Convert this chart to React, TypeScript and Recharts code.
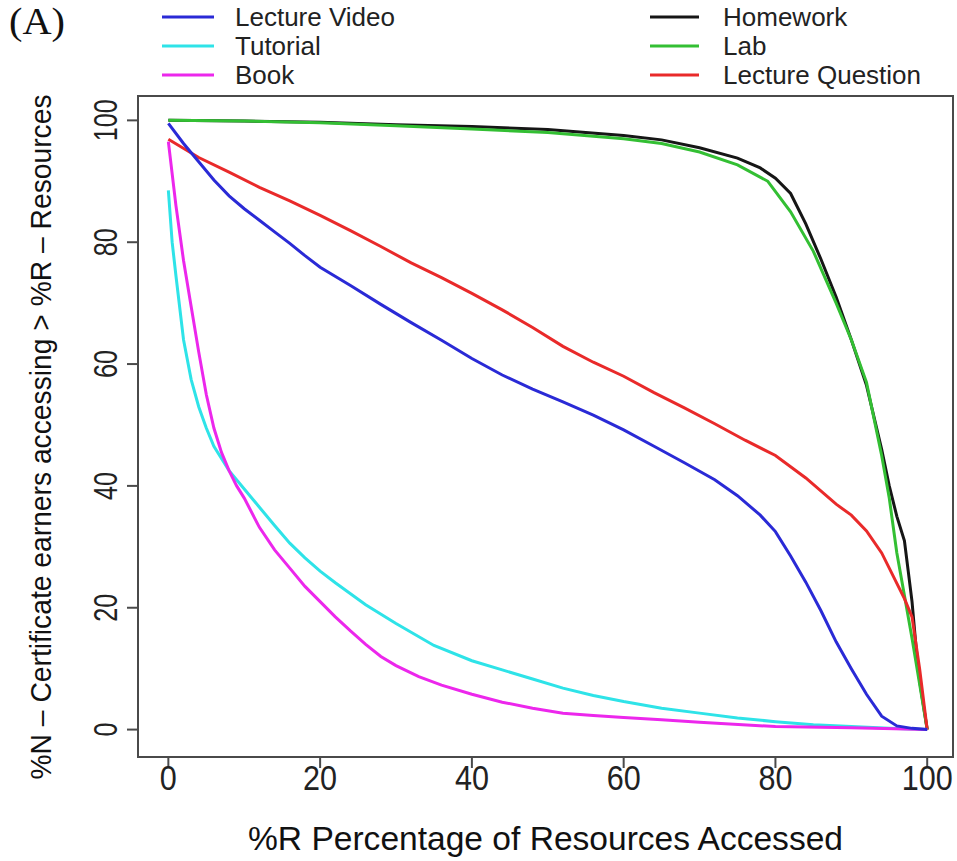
import { LineChart, Line, XAxis, YAxis, ReferenceArea, Legend, Label } from "recharts";

const BLUE = "#2a2ad6";
const CYAN = "#2ee3e8";
const MAGENTA = "#ec27ec";
const BLACK = "#161616";
const GREEN = "#33bf33";
const RED = "#e92a2a";
const AXIS = "#4a4a4a";
const SANS = "Liberation Sans, Arial, sans-serif";

// %R accessed -> %N of certificate earners
const lectureVideo = [
  { x: 0, y: 99.5 }, { x: 2, y: 96.2 }, { x: 4, y: 93.2 }, { x: 6, y: 90.2 }, { x: 8, y: 87.6 },
  { x: 10, y: 85.5 }, { x: 12, y: 83.6 }, { x: 14, y: 81.7 }, { x: 16, y: 79.8 }, { x: 18, y: 77.8 },
  { x: 20, y: 75.9 }, { x: 24, y: 72.9 }, { x: 28, y: 69.8 }, { x: 32, y: 66.8 }, { x: 36, y: 63.9 },
  { x: 40, y: 60.9 }, { x: 44, y: 58.2 }, { x: 48, y: 55.9 }, { x: 52, y: 53.8 }, { x: 56, y: 51.6 },
  { x: 60, y: 49.2 }, { x: 64, y: 46.5 }, { x: 68, y: 43.8 }, { x: 72, y: 41 }, { x: 75, y: 38.4 },
  { x: 78, y: 35.2 }, { x: 80, y: 32.5 }, { x: 82, y: 28.5 }, { x: 84, y: 24.2 }, { x: 86, y: 19.5 },
  { x: 88, y: 14.4 }, { x: 90, y: 10 }, { x: 92, y: 5.8 }, { x: 94, y: 2.2 }, { x: 96, y: 0.6 },
  { x: 98, y: 0.2 }, { x: 100, y: 0 },
];

const tutorial = [
  { x: 0, y: 88.5 }, { x: 0.5, y: 80 }, { x: 1, y: 74.5 }, { x: 2, y: 64 }, { x: 3, y: 57.5 },
  { x: 4, y: 53 }, { x: 5, y: 49.5 }, { x: 6, y: 46.5 }, { x: 8, y: 42.5 }, { x: 10, y: 39.5 },
  { x: 12, y: 36.5 }, { x: 14, y: 33.5 }, { x: 16, y: 30.6 }, { x: 18, y: 28.2 }, { x: 20, y: 26 },
  { x: 22, y: 24.1 }, { x: 26, y: 20.5 }, { x: 30, y: 17.4 }, { x: 35, y: 13.8 }, { x: 40, y: 11.3 },
  { x: 44, y: 9.8 }, { x: 48, y: 8.3 }, { x: 52, y: 6.8 }, { x: 56, y: 5.6 }, { x: 60, y: 4.6 },
  { x: 65, y: 3.5 }, { x: 70, y: 2.7 }, { x: 75, y: 1.9 }, { x: 80, y: 1.3 }, { x: 85, y: 0.8 },
  { x: 90, y: 0.5 }, { x: 95, y: 0.2 }, { x: 100, y: 0 },
];

const book = [
  { x: 0, y: 96.5 }, { x: 1, y: 86 }, { x: 2, y: 77 }, { x: 3, y: 69.5 }, { x: 4, y: 62 },
  { x: 5, y: 55 }, { x: 6, y: 49.5 }, { x: 7, y: 45.5 }, { x: 8, y: 42.5 }, { x: 9, y: 40 },
  { x: 10, y: 38 }, { x: 12, y: 33.2 }, { x: 14, y: 29.5 }, { x: 16, y: 26.5 }, { x: 18, y: 23.5 },
  { x: 20, y: 21 }, { x: 22, y: 18.5 }, { x: 24, y: 16.2 }, { x: 26, y: 14 }, { x: 28, y: 12 },
  { x: 30, y: 10.5 }, { x: 33, y: 8.7 }, { x: 36, y: 7.3 }, { x: 40, y: 5.8 }, { x: 44, y: 4.5 },
  { x: 48, y: 3.5 }, { x: 52, y: 2.7 }, { x: 56, y: 2.3 }, { x: 60, y: 2 }, { x: 65, y: 1.6 },
  { x: 70, y: 1.2 }, { x: 80, y: 0.5 }, { x: 90, y: 0.3 }, { x: 100, y: 0 },
];

const homework = [
  { x: 0, y: 100 }, { x: 10, y: 99.9 }, { x: 20, y: 99.7 }, { x: 30, y: 99.3 }, { x: 40, y: 99 },
  { x: 50, y: 98.5 }, { x: 60, y: 97.5 }, { x: 65, y: 96.8 }, { x: 70, y: 95.5 }, { x: 75, y: 93.8 },
  { x: 78, y: 92.2 }, { x: 80, y: 90.5 }, { x: 82, y: 88 }, { x: 84, y: 83 }, { x: 86, y: 77.2 },
  { x: 88, y: 71 }, { x: 90, y: 64 }, { x: 92, y: 56.5 }, { x: 94, y: 46 }, { x: 95, y: 40 },
  { x: 96, y: 35 }, { x: 97, y: 31 }, { x: 97.5, y: 26 }, { x: 98, y: 21 }, { x: 98.5, y: 14 },
  { x: 99, y: 8 }, { x: 100, y: 0 },
];

const lab = [
  { x: 0, y: 100 }, { x: 10, y: 99.9 }, { x: 20, y: 99.6 }, { x: 30, y: 99.1 }, { x: 40, y: 98.6 },
  { x: 50, y: 98 }, { x: 60, y: 97 }, { x: 65, y: 96.2 }, { x: 70, y: 94.8 }, { x: 75, y: 92.7 },
  { x: 79, y: 90 }, { x: 82, y: 85 }, { x: 85, y: 78.5 }, { x: 88, y: 70 }, { x: 90, y: 64 },
  { x: 92, y: 57 }, { x: 93, y: 51 }, { x: 94, y: 45 }, { x: 95, y: 38 }, { x: 96, y: 29 },
  { x: 97, y: 22 }, { x: 98, y: 15 }, { x: 99, y: 7.5 }, { x: 100, y: 0 },
];

const lectureQuestion = [
  { x: 0, y: 96.9 }, { x: 4, y: 93.9 }, { x: 8, y: 91.5 }, { x: 12, y: 89 }, { x: 16, y: 86.8 },
  { x: 20, y: 84.4 }, { x: 24, y: 81.9 }, { x: 28, y: 79.3 }, { x: 32, y: 76.6 }, { x: 36, y: 74.2 },
  { x: 40, y: 71.6 }, { x: 44, y: 68.9 }, { x: 48, y: 66 }, { x: 52, y: 62.9 }, { x: 56, y: 60.3 },
  { x: 60, y: 58 }, { x: 64, y: 55.3 }, { x: 68, y: 52.8 }, { x: 72, y: 50.2 }, { x: 76, y: 47.5 },
  { x: 80, y: 45 }, { x: 84, y: 41.3 }, { x: 88, y: 37 }, { x: 90, y: 35.2 }, { x: 92, y: 32.6 },
  { x: 94, y: 29 }, { x: 96, y: 24 }, { x: 97, y: 21.5 }, { x: 98, y: 18.5 }, { x: 99, y: 10 },
  { x: 100, y: 0 },
];

const xTicks = [0, 20, 40, 60, 80, 100];
const yTicks = [0, 20, 40, 60, 80, 100];

const legendLeft = [
  { name: "Lecture Video", color: BLUE },
  { name: "Tutorial", color: CYAN },
  { name: "Book", color: MAGENTA },
];
const legendRight = [
  { name: "Homework", color: BLACK },
  { name: "Lab", color: GREEN },
  { name: "Lecture Question", color: RED },
];

// draw order: later ones sit on top
const series = [
  { name: "Homework", color: BLACK, data: homework },
  { name: "Lab", color: GREEN, data: lab },
  { name: "Lecture Question", color: RED, data: lectureQuestion },
  { name: "Tutorial", color: CYAN, data: tutorial },
  { name: "Book", color: MAGENTA, data: book },
  { name: "Lecture Video", color: BLUE, data: lectureVideo },
];

function XTick({ x, y, payload }: any) {
  const s = String(payload.value);
  return (
    <text x={x} y={y + 20} textAnchor="middle" fontSize={35} fontFamily={SANS} fill="#222"
      textLength={17 * s.length} lengthAdjust="spacingAndGlyphs">
      {s}
    </text>
  );
}

function YTick({ x, y, payload }: any) {
  const s = String(payload.value);
  return (
    <text transform={`translate(${x - 8},${y}) rotate(-90)`} textAnchor="middle" fontSize={34}
      fontFamily={SANS} fill="#222" textLength={14 * s.length} lengthAdjust="spacingAndGlyphs">
      {s}
    </text>
  );
}

function LegendBox() {
  const rows = [17, 46, 75];
  return (
    <svg width={957} height={95} style={{ display: "block" }}>
      <text x={9} y={34} fontSize={37} fontFamily="Liberation Serif, serif" fill="#111"
        textLength={56} lengthAdjust="spacingAndGlyphs">(A)</text>
      {legendLeft.map((e, i) => (
        <g key={e.name}>
          <line x1={162} x2={214} y1={rows[i]} y2={rows[i]} stroke={e.color} strokeWidth={3} />
          <text x={235} y={rows[i] + 9} fontSize={26} fontFamily={SANS} fill="#222">{e.name}</text>
        </g>
      ))}
      {legendRight.map((e, i) => (
        <g key={e.name}>
          <line x1={650} x2={699} y1={rows[i]} y2={rows[i]} stroke={e.color} strokeWidth={3} />
          <text x={723} y={rows[i] + 9} fontSize={26} fontFamily={SANS} fill="#222">{e.name}</text>
        </g>
      ))}
    </svg>
  );
}

export default function App() {
  return (
    <div style={{ position: "absolute", left: 0, top: 0, width: 957, height: 861, background: "#fff" }}>
      <LineChart width={957} height={861} margin={{ top: 96, right: 4, bottom: 0, left: 0 }}>
        <ReferenceArea x1={-4} x2={103.4} y1={-4.5} y2={104} fill="none" stroke={AXIS} strokeWidth={2} />
        <XAxis type="number" dataKey="x" domain={[-4, 103.4]} allowDataOverflow ticks={xTicks}
          height={104} axisLine={false} tickSize={11} tickLine={{ stroke: AXIS, strokeWidth: 2 }} tick={<XTick />}>
          <Label content={() => (
            <text x={545.5} y={850} textAnchor="middle" fontSize={34} fontFamily={SANS} fill="#111"
              textLength={595} lengthAdjust="spacingAndGlyphs">
              %R Percentage of Resources Accessed
            </text>
          )} />
        </XAxis>
        <YAxis type="number" domain={[-4.5, 104]} allowDataOverflow ticks={yTicks} width={138}
          axisLine={false} tickSize={11} tickLine={{ stroke: AXIS, strokeWidth: 2 }} tick={<YTick />}>
          <Label content={() => (
            <text transform="translate(51,437) rotate(-90)" textAnchor="middle" fontSize={30}
              fontFamily={SANS} fill="#111" textLength={685} lengthAdjust="spacingAndGlyphs">
              %N – Certificate earners accessing &gt; %R – Resources
            </text>
          )} />
        </YAxis>
        <Legend layout="horizontal" verticalAlign="middle" align="center" content={() => <LegendBox />}
          wrapperStyle={{ top: 0, left: 0, width: 957, height: 95 }} />
        {series.map((s) => (
          <Line key={s.name} name={s.name} data={s.data} dataKey="y" type="linear" stroke={s.color}
            strokeWidth={3} dot={false} activeDot={false} isAnimationActive={false} />
        ))}
      </LineChart>
    </div>
  );
}
